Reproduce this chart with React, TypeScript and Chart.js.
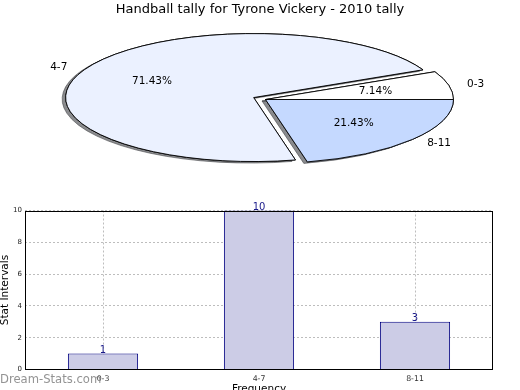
import React, { useEffect, useRef } from 'react';
import { Chart, registerables } from 'chart.js';

Chart.register(...registerables);

const FONT = 'DejaVu Sans';
const TITLE = 'Handball tally for Tyrone Vickery - 2010 tally';
const WATERMARK = 'Dream-Stats.com';

const categories = ['0-3', '4-7', '8-11'];
const tallies = [1, 10, 3];
const pieColors = ['#FFFFFF', '#EBF1FF', '#C5D9FF'];
const pieExplode = [0, 0.07, 0];
const yTicks = [0, 2, 4, 6, 8, 10];
const xTitle = 'Frequency';
const yTitle = 'Stat Intervals';

// pie drawn clockwise from east in Chart.js, so reverse to mimic counter-clockwise order
const pieOrder = [2, 1, 0];

const PIE_RADIUS = 188;
const PIE_K = 64 / 188; // vertical squash of the pie into an ellipse

function ellipticalContext(ctx: CanvasRenderingContext2D, cy: number, k: number) {
  const mapY = (y: number) => cy + (y - cy) * k;
  return new Proxy(ctx, {
    get(target: any, prop: any) {
      if (prop === 'arc') {
        return (x: number, y: number, r: number, a0: number, a1: number, ccw?: boolean) =>
          target.ellipse(x, mapY(y), r, r * k, 0, a0, a1, ccw);
      }
      if (prop === 'moveTo' || prop === 'lineTo') {
        return (x: number, y: number) => target[prop](x, mapY(y));
      }
      const v = target[prop];
      return typeof v === 'function' ? v.bind(target) : v;
    },
    set(target: any, prop: any, value: any) {
      target[prop] = value;
      return true;
    },
  });
}

function arcGeom(arc: any, i: number, explode: number[]) {
  const mid = (arc.startAngle + arc.endAngle) / 2;
  const e = explode[i] * arc.outerRadius;
  return {
    mid,
    dx: Math.cos(mid) * e,
    dy: Math.sin(mid) * e * PIE_K,
  };
}

const piePlugin = {
  id: 'ellipsePie',
  beforeDatasetsDraw(chart: any) {
    const ctx: CanvasRenderingContext2D = chart.ctx;
    const meta = chart.getDatasetMeta(0);
    const explode = pieOrder.map((i) => pieExplode[i]);
    const pass = (shadow: boolean) => {
      meta.data.forEach((arc: any, i: number) => {
        const g = arcGeom(arc, i, explode);
        ctx.save();
        ctx.translate(g.dx, g.dy);
        if (shadow) {
          ctx.shadowColor = 'rgba(60,62,66,0.6)';
          ctx.shadowOffsetX = -3.5;
          ctx.shadowOffsetY = 1.5;
          ctx.shadowBlur = 0;
        }
        arc.draw(ellipticalContext(ctx, arc.y, PIE_K));
        ctx.restore();
      });
    };
    pass(true);
    pass(false);
    return false;
  },
  afterDraw(chart: any) {
    const ctx: CanvasRenderingContext2D = chart.ctx;
    const meta = chart.getDatasetMeta(0);
    const explode = pieOrder.map((i) => pieExplode[i]);
    const values: number[] = chart.data.datasets[0].data;
    const total = values.reduce((a, b) => a + b, 0);
    ctx.save();
    // title, centred on the whole figure
    ctx.font = `13px "${FONT}"`;
    ctx.fillStyle = '#000';
    ctx.textAlign = 'center';
    ctx.textBaseline = 'middle';
    ctx.fillText(TITLE, chart.width / 2, 10);

    ctx.font = `10.5px "${FONT}"`;
    meta.data.forEach((arc: any, i: number) => {
      const g = arcGeom(arc, i, explode);
      const cx = arc.x + g.dx;
      const cy = arc.y + g.dy;
      const R = arc.outerRadius;
      const c = Math.cos(g.mid);
      const s = Math.sin(g.mid);
      const lx = cx + 1.1 * R * c;
      const ly = cy + 1.1 * R * PIE_K * s;
      ctx.textAlign = c > 0 ? 'left' : 'right';
      ctx.fillText(chart.data.labels[i], lx, ly);
      const px = cx + 0.6 * R * c;
      const py = cy + 0.6 * R * PIE_K * s;
      ctx.textAlign = 'center';
      ctx.fillText(((values[i] / total) * 100).toFixed(2) + '%', px, py);
    });
    ctx.restore();
  },
};

const barPlugin = {
  id: 'barExtras',
  afterDraw(chart: any) {
    const ctx: CanvasRenderingContext2D = chart.ctx;
    const { left, top, right, bottom } = chart.chartArea;
    ctx.save();
    ctx.strokeStyle = '#000';
    ctx.lineWidth = 1;
    const l = Math.round(left) + 0.5;
    const t = Math.round(top) + 0.5;
    const r = Math.round(right) - 0.5;
    const b = Math.round(bottom) - 0.5;
    ctx.strokeRect(l, t, r - l, b - t);
    // value labels
    const meta = chart.getDatasetMeta(0);
    const values: number[] = chart.data.datasets[0].data;
    ctx.font = `10px "${FONT}"`;
    ctx.fillStyle = '#1a1a8a';
    ctx.textAlign = 'center';
    ctx.textBaseline = 'alphabetic';
    meta.data.forEach((bar: any, i: number) => {
      ctx.fillText(String(values[i]), bar.x, bar.y - 1);
    });
    // watermark
    ctx.font = `11.6px "${FONT}"`;
    ctx.fillStyle = 'rgba(128,128,128,0.85)';
    ctx.textAlign = 'left';
    ctx.textBaseline = 'middle';
    ctx.fillText(WATERMARK, 0, 190);
    ctx.restore();
  },
};

export default function App() {
  const pieRef = useRef<HTMLCanvasElement>(null);
  const barRef = useRef<HTMLCanvasElement>(null);

  useEffect(() => {
    Chart.defaults.font.family = FONT;
    const pie = new Chart(pieRef.current as HTMLCanvasElement, {
      type: 'pie',
      data: {
        labels: pieOrder.map((i) => categories[i]),
        datasets: [
          {
            data: pieOrder.map((i) => tallies[i]),
            backgroundColor: pieOrder.map((i) => pieColors[i]),
            borderColor: '#000',
            borderWidth: 0.9,
          },
        ],
      },
      options: {
        animation: false,
        responsive: false,
        events: [],
        rotation: 90,
        radius: PIE_RADIUS,
        layout: { padding: { left: 11, right: 0, top: 17.6, bottom: 8.6 } },
        plugins: {
          legend: { display: false },
          tooltip: { enabled: false },
          title: { display: false },
        },
      } as any,
      plugins: [piePlugin as any],
    });

    const bar = new Chart(barRef.current as HTMLCanvasElement, {
      type: 'bar',
      data: {
        labels: categories,
        datasets: [
          {
            data: tallies,
            backgroundColor: '#CCCCE6',
            borderColor: '#000080',
            borderWidth: 1,
            barPercentage: 0.45,
            categoryPercentage: 1,
          },
        ],
      },
      options: {
        animation: false,
        responsive: false,
        events: [],
        layout: { padding: { top: 20.5, right: 27, left: 0, bottom: 0 } },
        plugins: { legend: { display: false }, tooltip: { enabled: false } },
        scales: {
          x: {
            z: 1,
            grid: { offset: false, color: '#bdbdbd', lineWidth: 1, drawTicks: false },
            border: { display: false, dash: [2, 2] },
            ticks: { padding: 5, color: '#333', font: { size: 7.8 }, maxRotation: 0 },
            title: { display: true, text: xTitle, color: '#000', font: { size: 10.5 }, padding: 0 },
            afterFit: (s: any) => {
              s.height = 26.5;
            },
          },
          y: {
            z: 1,
            min: yTicks[0],
            max: yTicks[yTicks.length - 1],
            afterBuildTicks: (s: any) => {
              s.ticks = yTicks.map((v) => ({ value: v }));
            },
            grid: { color: '#bdbdbd', lineWidth: 1, drawTicks: false },
            border: { display: false, dash: [2, 2] },
            ticks: { padding: 3, color: '#222', font: { size: 7 } },
            title: {
              display: true,
              text: yTitle,
              color: '#000',
              font: { size: 10.5, lineHeight: 1 },
              padding: 0,
            },
            afterFit: (s: any) => {
              s.width = 25;
            },
          },
        },
      } as any,
      plugins: [barPlugin as any],
    });

    return () => {
      pie.destroy();
      bar.destroy();
    };
  }, []);

  return (
    <div
      style={{
        position: 'absolute',
        left: 0,
        top: 0,
        width: 520,
        height: 390,
        overflow: 'hidden',
        background: '#fff',
      }}
    >
      <canvas ref={pieRef} width={520} height={190} style={{ display: 'block' }} />
      <canvas ref={barRef} width={520} height={206} style={{ display: 'block' }} />
    </div>
  );
}
